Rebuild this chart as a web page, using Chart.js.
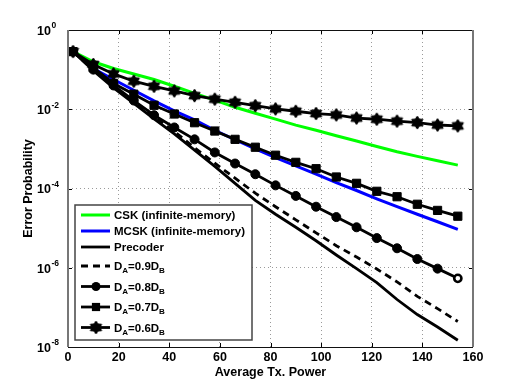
<!DOCTYPE html>
<html>
<head>
<meta charset="utf-8">
<title>Error Probability vs Average Tx. Power</title>
<script src="https://cdn.jsdelivr.net/npm/chart.js@4.4.1/dist/chart.umd.min.js"></script>
<style>
    html, body { margin: 0; padding: 0; background: #fff; }
    #wrap { width: 523px; height: 391px; }
</style>
</head>
<body>
<div id="wrap"><canvas id="errorChart" width="523" height="391"></canvas></div>
<script>
// x values (average Tx. power)
const txPower = [2, 10, 18, 26, 34, 42, 50, 58, 66, 74, 82, 90, 98, 106, 114, 122, 130, 138, 146, 154];

// error probability per curve
const cskInfinite = [0.285, 0.158, 0.107, 0.0776, 0.0562, 0.038, 0.0251, 0.017, 0.0112, 0.00794,
    0.00562, 0.00398, 0.00295, 0.00214, 0.00158, 0.00115, 0.00085, 0.000646, 0.000501, 0.000389];
const mcskInfinite = [0.285, 0.107, 0.0562, 0.0302, 0.0162, 0.00912, 0.00537, 0.00295, 0.0017, 0.001,
    0.0006, 0.00037, 0.00023, 0.000141, 8.9e-5, 5.5e-5, 3.47e-5, 2.24e-5, 1.45e-5, 9.3e-6];
const precoder = [0.285, 0.0933, 0.0347, 0.0141, 0.00575, 0.0024, 0.000933, 0.000363, 0.000135, 5.0e-5,
    2.24e-5, 1.05e-5, 4.8e-6, 2.1e-6, 9.5e-7, 4.2e-7, 1.58e-7, 6.6e-8, 3.2e-8, 1.48e-8];
const da09 = [0.285, 0.0977, 0.038, 0.0158, 0.00661, 0.00275, 0.00107, 0.000437, 0.000182, 7.6e-5,
    3.47e-5, 1.62e-5, 7.6e-6, 3.6e-6, 1.86e-6, 9.3e-7, 4.4e-7, 1.9e-7, 9.3e-8, 4.4e-8];
const da08 = [0.285, 0.1, 0.0398, 0.0166, 0.00708, 0.00347, 0.00174, 0.000813, 0.000427, 0.000229,
    0.00012, 6.5e-5, 3.47e-5, 1.9e-5, 1.05e-5, 5.6e-6, 3.1e-6, 1.66e-6, 9.5e-7, 5.4e-7];
const da07 = [0.285, 0.112, 0.0447, 0.024, 0.0126, 0.00759, 0.00457, 0.00282, 0.00174, 0.0011,
    0.000692, 0.000457, 0.000316, 0.000195, 0.000135, 8.5e-5, 6.2e-5, 4.0e-5, 2.8e-5, 2.0e-5];
const da06 = [0.285, 0.135, 0.078, 0.051, 0.038, 0.029, 0.022, 0.018, 0.015, 0.0123,
    0.0102, 0.0089, 0.0078, 0.0072, 0.006, 0.0056, 0.005, 0.0046, 0.004, 0.0038];

const seriesNames = ['CSK (infinite-memory)', 'MCSK (infinite-memory)', 'Precoder',
    'D_A=0.9D_B', 'D_A=0.8D_B', 'D_A=0.7D_B', 'D_A=0.6D_B'];

const xTicks = [0, 20, 40, 60, 80, 100, 120, 140, 160];
const yTickExponents = [0, -2, -4, -6, -8];

const FONT = '"Liberation Sans", Arial, Helvetica, sans-serif';

// six pointed star marker (matlab 'hexagram')
function makeHexagram(r) {
    const c = document.createElement('canvas');
    const s = Math.ceil(r * 2 + 2);
    c.width = s;
    c.height = s;
    const g = c.getContext('2d');
    g.translate(s / 2, s / 2);
    g.beginPath();
    for (let i = 0; i < 12; i++) {
        const rad = i % 2 === 0 ? r : r * 0.62;
        const a = -Math.PI / 2 + i * Math.PI / 6;
        g.lineTo(rad * Math.cos(a), rad * Math.sin(a));
    }
    g.closePath();
    g.fillStyle = '#000';
    g.fill();
    g.lineWidth = 1;
    g.strokeStyle = '#000';
    g.stroke();
    return c;
}
const starImg = makeHexagram(6.5);

const lastIdx = txPower.length - 1;

function makeDataset(i, values, extra) {
    return Object.assign({
        label: seriesNames[i],
        data: txPower.map((x, k) => ({ x: x, y: values[k] })),
        borderColor: '#000',
        backgroundColor: '#000',
        borderWidth: 2.8,
        pointRadius: 0,
        tension: 0,
        order: seriesNames.length - i
    }, extra);
}

const datasets = [
    makeDataset(0, cskInfinite, { borderColor: '#00ff00', backgroundColor: '#00ff00', borderWidth: 3 }),
    makeDataset(1, mcskInfinite, { borderColor: '#0000ff', backgroundColor: '#0000ff', borderWidth: 3 }),
    makeDataset(2, precoder, {}),
    makeDataset(3, da09, { borderDash: [7, 5] }),
    makeDataset(4, da08, {
        pointStyle: 'circle',
        pointRadius: ctx => ctx.dataIndex === lastIdx ? 3.6 : 4.5,
        pointBackgroundColor: ctx => ctx.dataIndex === lastIdx ? '#fff' : '#000',
        pointBorderColor: '#000',
        pointBorderWidth: ctx => ctx.dataIndex === lastIdx ? 2.6 : 1
    }),
    makeDataset(5, da07, {
        pointStyle: 'rect', pointRadius: 5.8,
        pointBackgroundColor: '#000', pointBorderColor: '#000', pointBorderWidth: 1
    }),
    makeDataset(6, da06, { pointStyle: starImg, pointRadius: 6 })
];

// draw text where "_X" puts X as a subscript
function drawSubText(ctx, text, x, y, size) {
    const parts = text.split(/(_.)/);
    parts.forEach(p => {
        if (!p) return;
        if (p[0] === '_') {
            ctx.font = 'bold ' + (size * 0.7) + 'px ' + FONT;
            ctx.fillText(p[1], x, y + 4);
            x += ctx.measureText(p[1]).width;
        } else {
            ctx.font = 'bold ' + size + 'px ' + FONT;
            ctx.fillText(p, x, y);
            x += ctx.measureText(p).width;
        }
    });
}

const frameAndTicks = {
    id: 'frameAndTicks',
    afterDatasetsDraw(chart) {
        const { ctx, chartArea: a } = chart;
        const xs = chart.scales.x, ys = chart.scales.y;
        ctx.save();
        ctx.strokeStyle = '#000';
        ctx.lineWidth = 1;
        // inward tick marks
        ctx.beginPath();
        xTicks.forEach(v => {
            const px = Math.round(xs.getPixelForValue(v)) + 0.5;
            ctx.moveTo(px, a.bottom); ctx.lineTo(px, a.bottom - 4);
            ctx.moveTo(px, a.top); ctx.lineTo(px, a.top + 4);
        });
        yTickExponents.forEach(e => {
            const py = Math.round(ys.getPixelForValue(Math.pow(10, e))) + 0.5;
            ctx.moveTo(a.left, py); ctx.lineTo(a.left + 4, py);
            ctx.moveTo(a.right, py); ctx.lineTo(a.right - 4, py);
        });
        ctx.stroke();
        // box
        ctx.lineWidth = 1.2;
        ctx.strokeStyle = '#111';
        ctx.beginPath();
        ctx.moveTo(a.left, a.top + 0.5); ctx.lineTo(a.right, a.top + 0.5);
        ctx.moveTo(a.left, a.bottom + 0.5); ctx.lineTo(a.right, a.bottom + 0.5);
        ctx.stroke();
        ctx.lineWidth = 2;
        ctx.strokeStyle = '#777';
        ctx.beginPath();
        ctx.moveTo(a.left, a.top); ctx.lineTo(a.left, a.bottom);
        ctx.moveTo(a.right, a.top); ctx.lineTo(a.right, a.bottom);
        ctx.stroke();

        // y tick labels as 10 with superscript exponent
        ctx.fillStyle = '#000';
        ctx.textBaseline = 'middle';
        yTickExponents.forEach(e => {
            const py = ys.getPixelForValue(Math.pow(10, e));
            ctx.font = 'bold 12.5px ' + FONT;
            ctx.textAlign = 'right';
            ctx.fillText('10', a.left - 17, py + 1.5);
            ctx.font = 'bold 8.5px ' + FONT;
            ctx.textAlign = 'left';
            ctx.fillText(String(e), a.left - 16.5, py - 4);
        });
        ctx.restore();
    }
};

const legendBox = {
    id: 'legendBox',
    afterDatasetsDraw(chart) {
        const { ctx, chartArea: a } = chart;
        const left = a.left + 7, top = a.top + 175;
        const w = 177, h = 135;
        ctx.save();
        ctx.fillStyle = '#fff';
        ctx.fillRect(left, top, w, h);
        ctx.lineWidth = 1.5;
        ctx.strokeStyle = '#444';
        ctx.strokeRect(left, top, w, h);
        chart.data.datasets.forEach((ds, i) => {
            const y = top + (i < 3 ? 10 + 16 * i : 61 + 20.5 * (i - 3));
            ctx.strokeStyle = ds.borderColor;
            ctx.lineWidth = ds.borderWidth;
            ctx.setLineDash(ds.borderDash || []);
            ctx.beginPath();
            ctx.moveTo(left + 6, y);
            ctx.lineTo(left + 35, y);
            ctx.stroke();
            ctx.setLineDash([]);
            if (ds.pointStyle) {
                ctx.fillStyle = '#000';
                ctx.strokeStyle = '#000';
                ctx.lineWidth = 1;
                const r = ds.pointStyle === 'rect' ? 5.8 : ds.pointStyle === 'circle' ? 4.5 : 6;
                Chart.helpers.drawPoint(ctx, { pointStyle: ds.pointStyle, radius: r, rotation: 0 }, left + 21, y);
            }
            ctx.fillStyle = '#000';
            ctx.textBaseline = 'middle';
            ctx.textAlign = 'left';
            drawSubText(ctx, ds.label, left + 39, y + 1, 11.5);
        });
        ctx.restore();
    }
};

new Chart(document.getElementById('errorChart'), {
    type: 'line',
    data: { datasets: datasets },
    options: {
        responsive: false,
        animation: false,
        layout: { padding: { left: 0, top: 30, right: 50, bottom: 0 } },
        plugins: {
            legend: { display: false },
            tooltip: { enabled: false }
        },
        scales: {
            x: {
                type: 'linear',
                min: 0,
                max: 160,
                afterFit: s => { s.height = 44; },
                afterBuildTicks: s => { s.ticks = xTicks.map(v => ({ value: v })); },
                grid: { color: '#9a9a9a', lineWidth: 1, drawTicks: false },
                border: { display: false, dash: [1, 3] },
                ticks: {
                    color: '#000',
                    padding: 3.5,
                    maxRotation: 0,
                    font: { family: FONT, size: 12.5, weight: 'bold' }
                },
                title: {
                    display: true,
                    text: 'Average Tx. Power',
                    color: '#000',
                    padding: { top: 0, bottom: 10.8 },
                    font: { family: FONT, size: 12.5, weight: 'bold' }
                }
            },
            y: {
                type: 'logarithmic',
                min: 1e-8,
                max: 1,
                afterFit: s => { s.width = 68; },
                afterBuildTicks: s => { s.ticks = yTickExponents.map(e => ({ value: Math.pow(10, e) })); },
                grid: { color: '#9a9a9a', lineWidth: 1, drawTicks: false },
                border: { display: false, dash: [1, 3] },
                ticks: { display: false },
                title: {
                    display: true,
                    text: 'Error Probability',
                    color: '#000',
                    padding: { top: 21, bottom: 0 },
                    font: { family: FONT, size: 12.5, weight: 'bold' }
                }
            }
        }
    },
    plugins: [frameAndTicks, legendBox]
});
</script>
</body>
</html>
